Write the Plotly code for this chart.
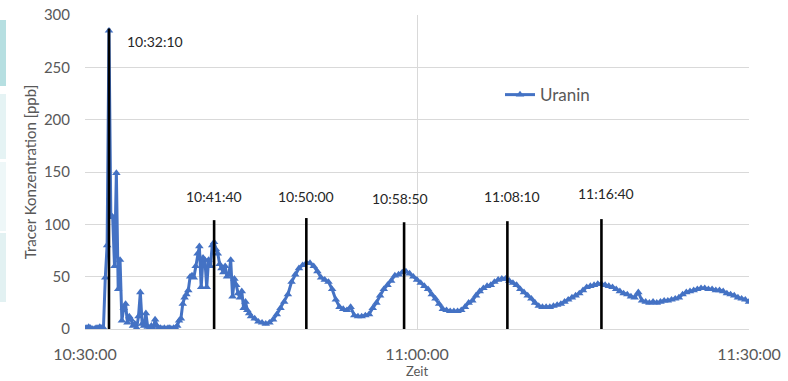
import pandas as pd
import plotly.graph_objects as go

# ---- data -------------------------------------------------------------
start = "2000-01-01 10:30:00"
# segment 1: 10:30:00 .. 10:45:00, every 10 s
seg1_step_s = 10
seg1_values = [
    1, 1, 2, 1, 0, 0, 1, 1, 2, 1, 1,
    49, 80, 285, 109, 107, 60, 149, 38, 66, 8,
    20, 24, 6, 12, 9, 3, 5, 1, 12, 35,
    5, 3, 15, 2, 1, 3, 0, 9, 3, 1,
    1, 0, 1, 0, 1, 1, 0, 1, 1, 3,
    8, 10, 24, 30, 33, 37, 50, 51, 49, 60,
    72, 79, 40, 68, 66, 40, 66, 60, 80, 83,
    76, 72, 62, 58, 54, 60, 50, 52, 66, 31,
    48, 42, 34, 30, 36, 20, 26, 18, 15, 12,
]
# segment 2: 10:45:20 .. 11:30:00, every 20 s
seg2_start_s = 920
seg2_step_s = 20
seg2_values = [
    10, 7, 6, 5, 6, 9, 14, 20, 26, 33,
    45, 52, 58, 61, 63, 63, 60, 55, 49, 47,
    45, 38, 28, 21, 19, 18, 21, 13, 12, 12,
    13, 14, 20, 25, 32, 38, 42, 46, 51, 52,
    54, 55, 53, 50, 47, 44, 41, 38, 33, 29,
    24, 19, 18, 17, 17, 17, 18, 21, 25, 27,
    32, 36, 39, 41, 42, 45, 47, 48, 48, 46,
    44, 42, 38, 35, 32, 29, 25, 22, 21, 21,
    21, 22, 23, 24, 26, 28, 30, 32, 34, 37,
    40, 41, 42, 43, 43, 42, 41, 40, 38, 36,
    34, 33, 31, 30, 35, 27, 26, 25, 26, 25,
    26, 27, 27, 28, 29, 30, 33, 35, 36, 37,
    38, 39, 39, 38, 38, 37, 37, 36, 34, 33,
    32, 30, 29, 28, 26,
]
series_name = "Uranin"

peak_times = ["10:32:10", "10:41:40", "10:50:00", "10:58:50", "11:08:10", "11:16:40"]
peak_line_heights = [287, 104, 106, 102, 103, 105]
peak_label_y = [275, 127, 127, 125, 127, 129]
peak_label_xshift = [46, 0, 0, -4, 5, 5]

x_range = ["10:30:00", "11:30:00"]
y_range = [0, 300]
y_title = "Tracer Konzentration [ppb]"
x_title = "Zeit"

# ---- build -------------------------------------------------------------
t0 = pd.Timestamp(start)
times1 = [t0 + pd.Timedelta(seconds=i * seg1_step_s) for i in range(len(seg1_values))]
times2 = [t0 + pd.Timedelta(seconds=seg2_start_s + i * seg2_step_s) for i in range(len(seg2_values))]
times = times1 + times2
values = seg1_values + seg2_values

def ts(hms):
    return pd.Timestamp("2000-01-01 " + hms)

blue = "#4472C4"
grey_text = "#595959"
grid = "#D9D9D9"
font_family = "Lato, 'Open Sans', sans-serif"

fig = go.Figure()
fig.add_trace(go.Scatter(
    x=times, y=values, name=series_name, mode="lines+markers",
    line=dict(color=blue, width=3),
    marker=dict(symbol="triangle-up", size=7.5, color=blue, line=dict(width=0)),
))

for t, h in zip(peak_times, peak_line_heights):
    fig.add_trace(go.Scatter(
        x=[ts(t), ts(t)], y=[-1.5, h], mode="lines",
        line=dict(color="black", width=2.6), showlegend=False, hoverinfo="skip",
        cliponaxis=False,
    ))

for t, ly, dx in zip(peak_times, peak_label_y, peak_label_xshift):
    fig.add_annotation(
        x=ts(t), y=ly, text=t, showarrow=False, xshift=dx,
        font=dict(family=font_family, size=14, color="#262626"),
    )

# decorative slide fragments at the left edge
side_boxes = [(20, 86, "#B6DFE1"), (94, 159, "#E5F3F4"), (162, 231, "#EEF7F8"), (233, 302, "#E2F1F2")]
W, H = 788, 381
ml, mr, mt, mb = 85, 39, 15, 52
pw, ph = W - ml - mr, H - mt - mb
for y0p, y1p, col in side_boxes:
    fig.add_shape(
        type="rect", xref="paper", yref="paper",
        x0=(0 - ml) / pw, x1=(6 - ml) / pw,
        y0=(H - mb - y1p) / ph, y1=(H - mb - y0p) / ph,
        fillcolor=col, line=dict(width=0), layer="below",
    )

fig.update_layout(
    width=W, height=H,
    margin=dict(l=ml, r=mr, t=mt, b=mb, autoexpand=False),
    plot_bgcolor="white", paper_bgcolor="white",
    font=dict(family=font_family, color=grey_text),
    showlegend=True,
    legend=dict(
        x=0.625, y=0.745, xanchor="left", yanchor="middle",
        font=dict(size=17, color=grey_text), bgcolor="rgba(0,0,0,0)",
    ),
)
fig.update_xaxes(
    range=[ts(x_range[0]), ts(x_range[1])], automargin=False,
    tickformat="%H:%M:%S", dtick=30 * 60 * 1000, tick0=ts(x_range[0]),
    showgrid=True, gridcolor=grid, gridwidth=1,
    showline=True, linecolor=grid, linewidth=1, mirror=False,
    zeroline=False, ticks="",
    tickfont=dict(size=16, color=grey_text), ticklabelstandoff=11,
    title=dict(text=x_title, font=dict(size=13, color=grey_text), standoff=4),
)
fig.update_yaxes(
    range=y_range, dtick=50, automargin=False,
    showgrid=True, gridcolor=grid, gridwidth=1,
    zeroline=False, showline=False, ticks="",
    tickfont=dict(size=15, color=grey_text), ticklabelstandoff=14,
    title=dict(text=y_title, font=dict(size=15, color=grey_text), standoff=3),
)

fig.write_html(
    "out.html",
    config={"displayModeBar": False},
    post_script="document.body.style.margin='0px';document.body.style.overflow='hidden';",
)
